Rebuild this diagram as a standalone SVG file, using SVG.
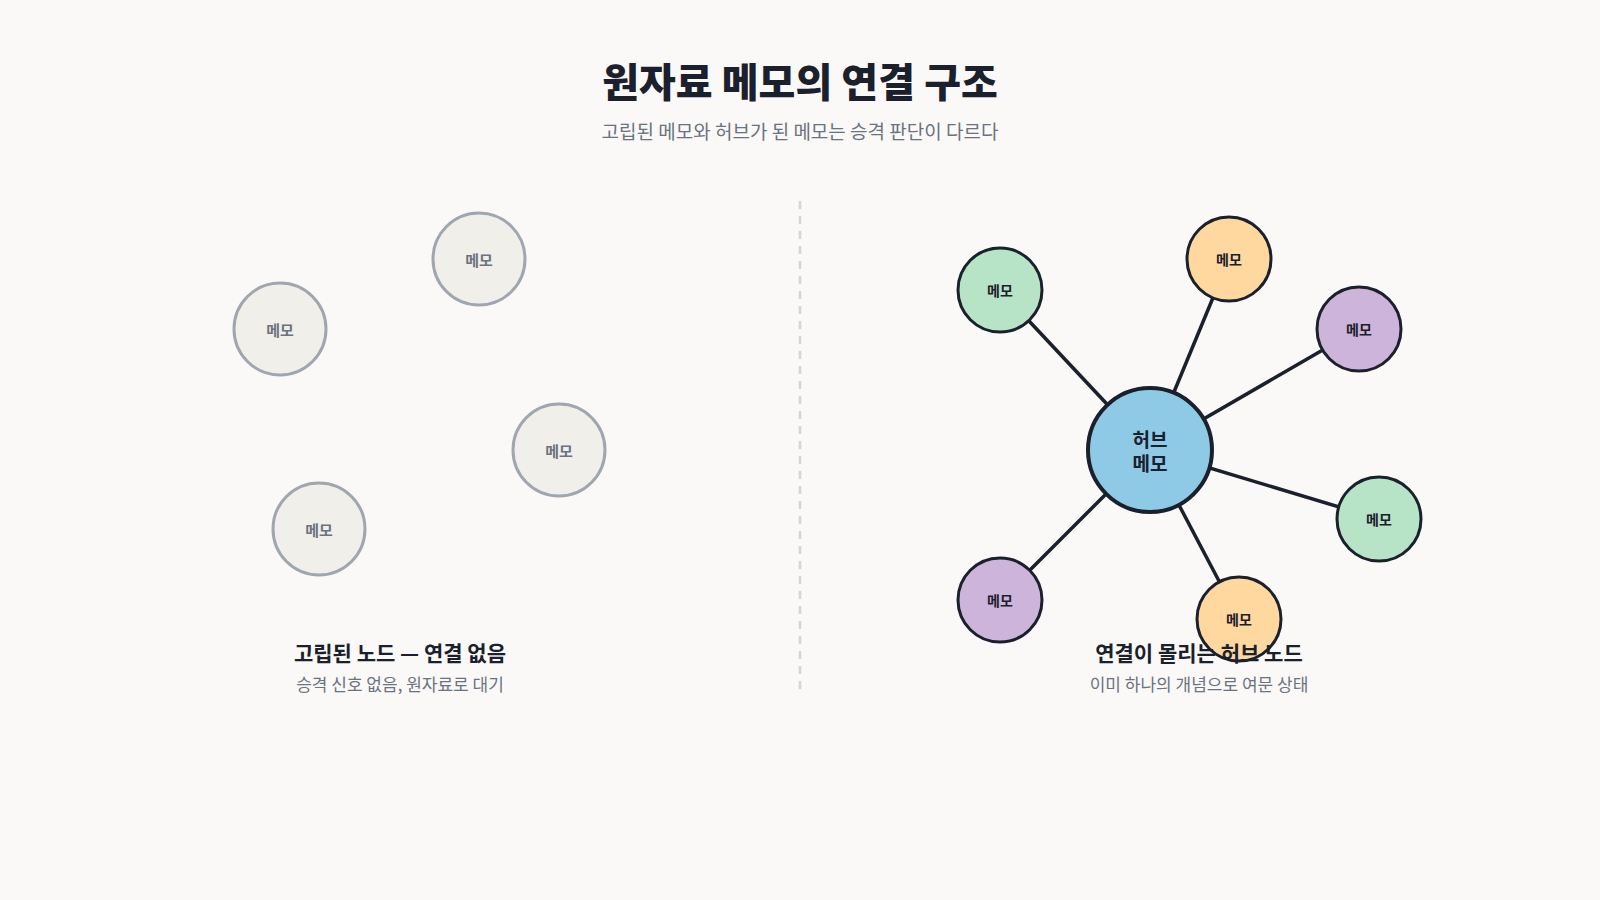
<svg xmlns="http://www.w3.org/2000/svg" width="1600" height="900" viewBox="0 0 1600 900">
<style>
text{font-family:"Noto Sans CJK KR","Noto Sans",sans-serif;text-anchor:middle;dominant-baseline:central}
.iso circle{fill:#f1efea;stroke:#a0a6b0;stroke-width:3}
.iso text{fill:#6b7280;font-size:15px;font-weight:700}
.sat circle{stroke:#1a202c;stroke-width:3}
.sat text{fill:#1a202c;font-size:14px;font-weight:700}
.cap{fill:#1a202c;font-size:21px;font-weight:700}
.sub{fill:#6b7280;font-size:17px}
</style>
<rect width="1600" height="900" fill="#faf9f7"/>
<text x="800" y="80" font-size="40" font-weight="800" fill="#1a202c">원자료 메모의 연결 구조</text>
<text x="800" y="130" font-size="19" fill="#6b7280">고립된 메모와 허브가 된 메모는 승격 판단이 다르다</text>
<line x1="800" y1="201" x2="800" y2="690" stroke="#d1d5db" stroke-width="2.5" stroke-dasharray="8 7"/>
<g id="iso1" class="iso"><circle cx="479" cy="259" r="46"/><text x="479" y="259">메모</text></g>
<g id="iso2" class="iso"><circle cx="280" cy="329" r="46"/><text x="280" y="329">메모</text></g>
<g id="iso3" class="iso"><circle cx="559" cy="450" r="46"/><text x="559" y="450">메모</text></g>
<g id="iso4" class="iso"><circle cx="319" cy="529" r="46"/><text x="319" y="529">메모</text></g>
<text class="cap" x="400" y="652">고립된 노드 — 연결 없음</text>
<text class="sub" x="400" y="683">승격 신호 없음, 원자료로 대기</text>
<g id="connectors" stroke="#1a202c" stroke-width="3.5">
<line x1="1150" y1="450" x2="1000" y2="290"/>
<line x1="1150" y1="450" x2="1229" y2="259"/>
<line x1="1150" y1="450" x2="1359" y2="329"/>
<line x1="1150" y1="450" x2="1379" y2="519"/>
<line x1="1150" y1="450" x2="1239" y2="619"/>
<line x1="1150" y1="450" x2="1000" y2="600"/>
</g>
<g id="hub"><circle cx="1150" cy="450" r="62" fill="#8ecae6" stroke="#1a202c" stroke-width="4"/>
<text x="1150" y="438" font-size="19" font-weight="700" fill="#1a202c">허브</text>
<text x="1150" y="462" font-size="19" font-weight="700" fill="#1a202c">메모</text></g>
<g id="s1" class="sat"><circle cx="1000" cy="290" r="42" fill="#b7e4c7"/><text x="1000" y="290">메모</text></g>
<g id="s2" class="sat"><circle cx="1229" cy="259" r="42" fill="#ffd8a0"/><text x="1229" y="259">메모</text></g>
<g id="s3" class="sat"><circle cx="1359" cy="329" r="42" fill="#cdb4db"/><text x="1359" y="329">메모</text></g>
<g id="s4" class="sat"><circle cx="1379" cy="519" r="42" fill="#b7e4c7"/><text x="1379" y="519">메모</text></g>
<g id="s5" class="sat"><circle cx="1239" cy="619" r="42" fill="#ffd8a0"/><text x="1239" y="619">메모</text></g>
<g id="s6" class="sat"><circle cx="1000" cy="600" r="42" fill="#cdb4db"/><text x="1000" y="600">메모</text></g>
<text class="cap" x="1199" y="652">연결이 몰리는 허브 노드</text>
<text class="sub" x="1199" y="683">이미 하나의 개념으로 여문 상태</text>
</svg>
